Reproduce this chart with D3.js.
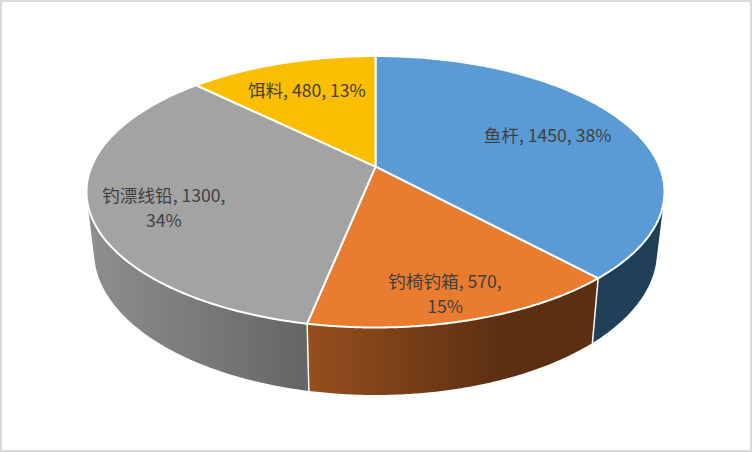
<!DOCTYPE html>
<html><head><meta charset="utf-8">
<script src="https://cdn.jsdelivr.net/npm/d3@7"></script>
<style>html,body{margin:0;padding:0;background:#fff}svg{display:block}</style>
</head><body><div id="c"></div>
<script>
const categories=["鱼杆","钓椅钓箱","钓漂线铅","饵料"];
const values=[1450,570,1300,480];
const topColors=["#5b9bd5","#ea7c30","#a3a3a3","#fcbe00"];
const wallStops=[[["#223f58","#223f58"]],[["#964f1e","#5c2f12"]],[["#8f8f8f","#656565"]],[["#997300","#997300"]]];
const labelWrap=[false,true,true,false];
const labelRadius=[0.68,0.85,0.765,0.70];
const labelTurn=[0,1.5,-6,0];

const W=752,H=452;
const svg=d3.select("#c").append("svg").attr("width",W).attr("height",H);
svg.append("rect").attr("x",1).attr("y",1).attr("width",W-2).attr("height",H-2)
  .attr("fill","#fff").attr("stroke","#d9d9d9").attr("stroke-width",2);

// perspective: unit disc -> ellipse with the disc centre pushed away from the viewer
const A=-0.185, K=Math.sqrt(1-A*A);
const unitProject=(t,r=1)=>{const u=r*Math.sin(t),v=-r*Math.cos(t),d=1+A*v;return [u*K/d,(v+A)/d];};
const topX=d3.scaleLinear().domain([-1,1]).range([86.5,664.5]);
const topY=d3.scaleLinear().domain([-1,1]).range([56,327.5]);
const botX=d3.scaleLinear().domain([-1,1]).range([94,657]);
const botY=d3.scaleLinear().domain([-1,1]).range([108,395]);
const onTop=(t,r)=>{const p=unitProject(t,r);return [topX(p[0]),topY(p[1])];};
const onBot=(t)=>{const p=unitProject(t);return [botX(p[0]),botY(p[1])];};

const pie=d3.pie().sort(null).value(d=>d);
const arcs=pie(values);
const total=d3.sum(values);
const line=d3.line();
const samples=a=>d3.range(0,121).map(i=>a.startAngle+(a.endAngle-a.startAngle)*i/120);

const defs=svg.append("defs");
arcs.forEach((a,i)=>{
  const ts=samples(a).filter(t=>Math.cos(t)<0.3);
  if(!ts.length) return;
  const xs=ts.map(t=>onTop(t)[0]);
  const g=defs.append("linearGradient").attr("id","w"+i).attr("gradientUnits","userSpaceOnUse")
    .attr("x1",d3.min(xs)).attr("x2",i===1?500:d3.max(xs)).attr("y1",0).attr("y2",0);
  g.append("stop").attr("offset",0).attr("stop-color",wallStops[i][0][0]);
  g.append("stop").attr("offset",1).attr("stop-color",wallStops[i][0][1]);
  // walls: union of thin quads between rim and base
  let d="";
  for(let k=0;k<ts.length-1;k++){
    let q=[onTop(ts[k]),onTop(ts[k+1]),onBot(ts[k+1]),onBot(ts[k])];
    if(d3.polygonArea(q)<0) q=q.reverse();
    d+=line(q)+"Z";
  }
  svg.append("path").attr("d",d).attr("fill",`url(#w${i})`);
});
// separators on the front wall
arcs.forEach(a=>{
  const t=a.endAngle;
  if(Math.cos(t)<0){
    svg.append("path").attr("d",line([onTop(t),onBot(t)])).attr("stroke","#fff").attr("stroke-width",1.5).attr("fill","none");
  }
});
// top face
arcs.forEach((a,i)=>{
  const pts=[onTop(0,0),...samples(a).map(t=>onTop(t))];
  svg.append("path").attr("d",line(pts)+"Z").attr("fill",topColors[i])
    .attr("stroke","#fff").attr("stroke-width",2).attr("stroke-linejoin","round");
});
// labels
arcs.forEach((a,i)=>{
  const mid=(a.startAngle+a.endAngle)/2+labelTurn[i]*Math.PI/180;
  const [x,y]=onTop(mid,labelRadius[i]);
  const pct=Math.round(values[i]/total*100)+"%";
  const lines=labelWrap[i]?[`${categories[i]}, ${values[i]},`,pct]:[`${categories[i]}, ${values[i]}, ${pct}`];
  const text=svg.append("text").attr("text-anchor","middle")
    .attr("font-family","'Noto Sans CJK SC','Open Sans',sans-serif").attr("font-size",17.6).attr("fill","#404040");
  lines.forEach((s,k)=>{
    text.append("tspan").attr("x",x).attr("y",y+(k-(lines.length-1)/2)*25+6).text(s);
  });
});
</script></body></html>
